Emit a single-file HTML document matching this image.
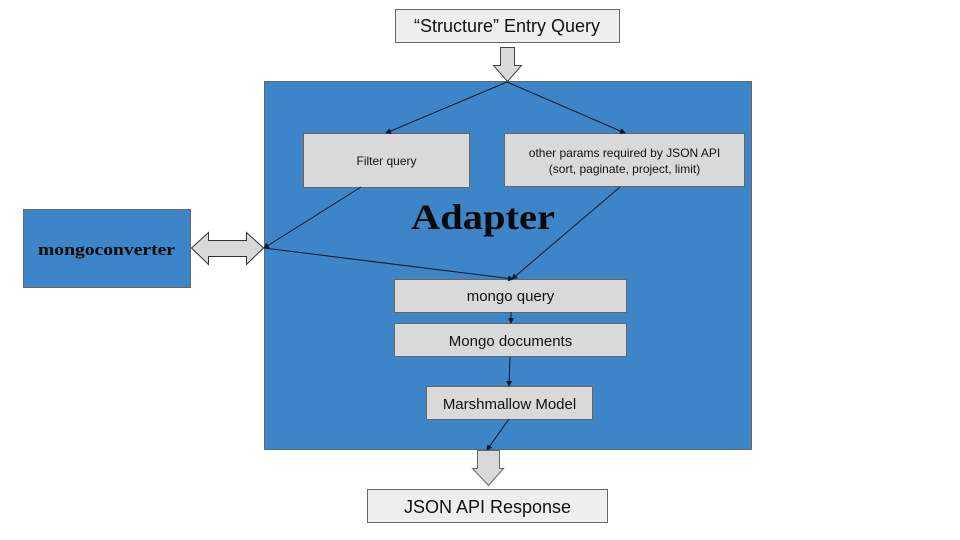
<!DOCTYPE html>
<html><head><meta charset="utf-8"><style>
html,body{margin:0;padding:0;background:#fff;width:960px;height:540px;overflow:hidden}
</style></head><body>
<svg width="960" height="540" viewBox="0 0 960 540" xmlns="http://www.w3.org/2000/svg" font-family="Liberation Sans, Arial, sans-serif">
<defs>
<marker id="a" markerWidth="6" markerHeight="6" refX="5" refY="3" orient="auto" markerUnits="userSpaceOnUse"><path d="M0,0 L6,3 L0,6 z" fill="#0b1a33"/></marker>
</defs>
<rect width="960" height="540" fill="#fff"/>
<rect x="395.5" y="9.5" width="224" height="33" fill="#eeeeee" stroke="#666"/>
<text x="507" y="32" font-size="18" text-anchor="middle" fill="#111">“Structure” Entry Query</text>
<rect x="264.5" y="81.5" width="487" height="368" fill="#3d85c6" stroke="#666"/>
<text x="411" y="229" font-size="36" font-weight="bold" font-family="Liberation Serif, serif" textLength="144" lengthAdjust="spacingAndGlyphs" fill="#0a0a0a">Adapter</text>
<path d="M500.5,47.5 H514.5 V65.5 H521.5 L507.5,81.5 L493.5,65.5 H500.5 Z" fill="#d9d9d9" stroke="#444"/>
<rect x="303.5" y="133.5" width="166" height="54" fill="#d9d9d9" stroke="#666"/>
<text x="386.5" y="165" font-size="12" text-anchor="middle" fill="#111">Filter query</text>
<rect x="504.5" y="133.5" width="240" height="53" fill="#d9d9d9" stroke="#666"/>
<text x="624.5" y="157" font-size="12" text-anchor="middle" fill="#111">other params required by JSON API</text>
<text x="624.5" y="173" font-size="12" text-anchor="middle" fill="#111">(sort, paginate, project, limit)</text>
<rect x="394.5" y="279.5" width="232" height="33" fill="#d9d9d9" stroke="#666"/>
<text x="510.5" y="301" font-size="15" text-anchor="middle" fill="#111">mongo query</text>
<rect x="394.5" y="323.5" width="232" height="33" fill="#d9d9d9" stroke="#666"/>
<text x="510.5" y="346" font-size="15" text-anchor="middle" fill="#111">Mongo documents</text>
<rect x="426.5" y="386.5" width="166" height="33" fill="#d9d9d9" stroke="#666"/>
<text x="509.5" y="409" font-size="15" text-anchor="middle" fill="#111">Marshmallow Model</text>
<rect x="23.5" y="209.5" width="167" height="78" fill="#3d85c6" stroke="#666"/>
<text x="38" y="255" font-size="17" font-weight="bold" font-family="Liberation Serif, serif" textLength="137" lengthAdjust="spacingAndGlyphs" fill="#0a0a0a">mongoconverter</text>
<path d="M191.5,248 L208.5,232.5 V240.5 H246.5 V232.5 L263.5,248 L246.5,264.5 V256.5 H208.5 V264.5 Z" fill="#d9d9d9" stroke="#333"/>
<g stroke="#0b1a33" stroke-width="1" fill="none" marker-end="url(#a)">
<line x1="507" y1="82" x2="386" y2="133"/>
<line x1="507" y1="82" x2="625" y2="133"/>
<line x1="361" y1="187" x2="264" y2="248"/>
<line x1="264" y1="248" x2="513" y2="279"/>
<line x1="620" y1="187" x2="512" y2="279"/>
<line x1="511" y1="312" x2="511" y2="323"/>
<line x1="510" y1="357" x2="509" y2="386"/>
<line x1="509" y1="419" x2="487" y2="450"/>
</g>
<path d="M477.5,450.5 H499.5 V468.5 H503.5 L488.5,485.5 L472.5,468.5 H477.5 Z" fill="#d9d9d9" stroke="#666"/>
<rect x="367.5" y="489.5" width="240" height="33" fill="#eeeeee" stroke="#666"/>
<text x="487.5" y="513" font-size="18" text-anchor="middle" fill="#111">JSON API Response</text>
</svg>
</body></html>
